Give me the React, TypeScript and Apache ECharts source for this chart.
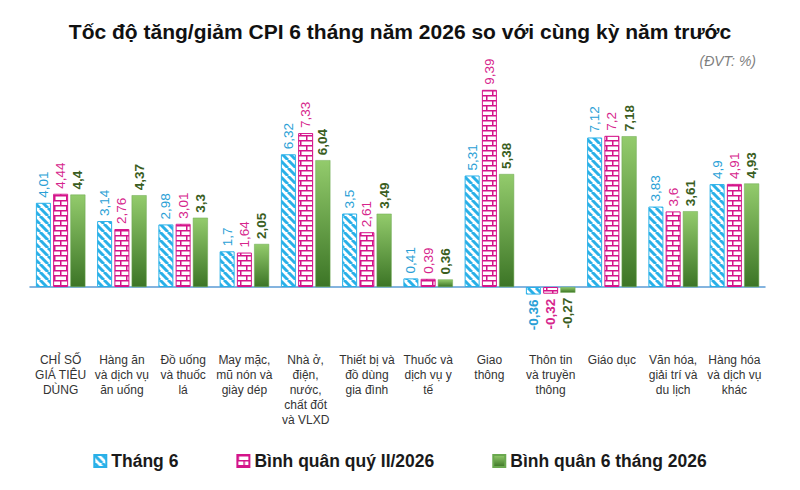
import { useEffect, useRef } from "react";
import * as echarts from "echarts";

const categories = [
  "CHỈ SỐ\nGIÁ TIÊU\nDÙNG",
  "Hàng ăn\nvà dịch vụ\năn uống",
  "Đồ uống\nvà thuốc\nlá",
  "May mặc,\nmũ nón và\ngiày dép",
  "Nhà ở,\nđiện,\nnước,\nchất đốt\nvà VLXD",
  "Thiết bị và\nđồ dùng\ngia đình",
  "Thuốc và\ndịch vụ y\ntế",
  "Giao\nthông",
  "Thôn tin\nvà truyền\nthông",
  "Giáo dục",
  "Văn hóa,\ngiải trí và\ndu lịch",
  "Hàng hóa\nvà dịch vụ\nkhác",
];

const thang6 = [4.01, 3.14, 2.98, 1.7, 6.32, 3.5, 0.41, 5.31, -0.36, 7.12, 3.83, 4.9];
const quyII = [4.44, 2.76, 3.01, 1.64, 7.33, 2.61, 0.39, 9.39, -0.32, 7.2, 3.6, 4.91];
const sauThang = [4.4, 4.37, 3.3, 2.05, 6.04, 3.49, 0.36, 5.38, -0.27, 7.18, 3.61, 4.93];

const seriesNames = ["Tháng 6", "Bình quân quý II/2026", "Bình quân 6 tháng 2026"];

const FONT = "Liberation Sans, Arial, sans-serif";

function stripePattern() {
  const s = 8;
  const c = document.createElement("canvas");
  c.width = s;
  c.height = s;
  const ctx = c.getContext("2d")!;
  ctx.fillStyle = "#ffffff";
  ctx.fillRect(0, 0, s, s);
  ctx.strokeStyle = "#29b0e8";
  ctx.lineWidth = 3;
  for (const x of [-s, 0, s]) {
    ctx.beginPath();
    ctx.moveTo(x, 0);
    ctx.lineTo(x + s, s);
    ctx.stroke();
  }
  return c;
}

function brickPattern() {
  const w = 12;
  const h = 10;
  const c = document.createElement("canvas");
  c.width = w;
  c.height = h;
  const ctx = c.getContext("2d")!;
  ctx.fillStyle = "#ffffff";
  ctx.fillRect(0, 0, w, h);
  ctx.strokeStyle = "#d4148a";
  ctx.lineWidth = 1.5;
  ctx.beginPath();
  ctx.moveTo(0, 0.75);
  ctx.lineTo(w, 0.75);
  ctx.moveTo(0, 5.75);
  ctx.lineTo(w, 5.75);
  ctx.moveTo(0.75, 0);
  ctx.lineTo(0.75, 5);
  ctx.moveTo(6.75, 5);
  ctx.lineTo(6.75, h);
  ctx.stroke();
  return c;
}

const fmt = (v: number) => String(v).replace(".", ",");

function toData(values: number[]) {
  return values.map((v) =>
    v < 0
      ? { value: v, label: { position: "bottom", align: "right", fontWeight: "bold" } }
      : { value: v }
  );
}

export default function App() {
  const ref = useRef<HTMLDivElement>(null);

  useEffect(() => {
    if (!ref.current) return;
    const chart = echarts.init(ref.current, undefined, { renderer: "svg" });

    const baseLabel = {
      show: true,
      position: "top",
      rotate: 90,
      align: "left",
      verticalAlign: "middle",
      distance: 5,
      fontSize: 13.5,
      fontFamily: FONT,
      formatter: (p: any) => fmt(p.value),
    };

    const option: any = {
      animation: false,
      backgroundColor: "#ffffff",
      title: {
        text: "Tốc độ tăng/giảm CPI 6 tháng năm 2026 so với cùng kỳ năm trước",
        left: "center",
        top: 16,
        textStyle: { fontSize: 21, fontWeight: "bold", color: "#111111", fontFamily: FONT },
      },
      graphic: [
        {
          type: "text",
          right: 44,
          top: 54,
          style: {
            text: "(ĐVT: %)",
            fontSize: 14,
            fontStyle: "italic",
            fill: "#7f7f7f",
            fontFamily: FONT,
          },
        },
      ],
      legend: {
        top: 447,
        left: "center",
        itemWidth: 12,
        itemHeight: 12,
        itemGap: 58,
        icon: "rect",
        textStyle: { fontSize: 17.5, fontWeight: "bold", color: "#1a1a1a", fontFamily: FONT },
        data: seriesNames,
      },
      grid: { left: 30, right: 35, top: 77, bottom: 161 },
      xAxis: [
        {
          type: "category",
          data: categories,
          position: "bottom",
          axisLine: { show: true, onZero: true, lineStyle: { color: "#5b9bd5", width: 1.5 } },
          axisTick: { show: false },
          axisLabel: { show: false },
        },
        {
          type: "category",
          data: categories,
          position: "bottom",
          axisLine: { show: false, onZero: false },
          axisTick: { show: false },
          axisLabel: {
            interval: 0,
            margin: 23,
            fontSize: 12,
            lineHeight: 15,
            color: "#333333",
            fontFamily: FONT,
          },
        },
      ],
      yAxis: {
        type: "value",
        min: -2,
        max: 10,
        show: false,
        splitLine: { show: false },
      },
      series: [
        {
          name: seriesNames[0],
          type: "bar",
          xAxisIndex: 0,
          data: toData(thang6),
          barWidth: 15,
          barGap: "15%",
          itemStyle: {
            color: { image: stripePattern(), repeat: "repeat" },
            borderColor: "#29b0e8",
            borderWidth: 1,
          },
          label: { ...baseLabel, color: "#2a9fd6" },
        },
        {
          name: seriesNames[1],
          type: "bar",
          xAxisIndex: 0,
          data: toData(quyII),
          barWidth: 15,
          barGap: "15%",
          itemStyle: {
            color: { image: brickPattern(), repeat: "repeat" },
            borderColor: "#d4148a",
            borderWidth: 1,
          },
          label: { ...baseLabel, color: "#d6258c" },
        },
        {
          name: seriesNames[2],
          type: "bar",
          xAxisIndex: 0,
          data: toData(sauThang),
          barWidth: 15,
          barGap: "15%",
          itemStyle: {
            color: new echarts.graphic.LinearGradient(0, 0, 0, 1, [
              { offset: 0, color: "#93cb6c" },
              { offset: 1, color: "#3c7526" },
            ]),
            borderColor: "#6aa84f",
            borderWidth: 0.5,
          },
          label: { ...baseLabel, color: "#3b5e1f", fontWeight: "bold" },
        },
      ],
    };

    chart.setOption(option);
    return () => {
      chart.dispose();
    };
  }, []);

  return (
    <div
      ref={ref}
      style={{ position: "absolute", left: 0, top: 0, width: 800, height: 490 }}
    />
  );
}
